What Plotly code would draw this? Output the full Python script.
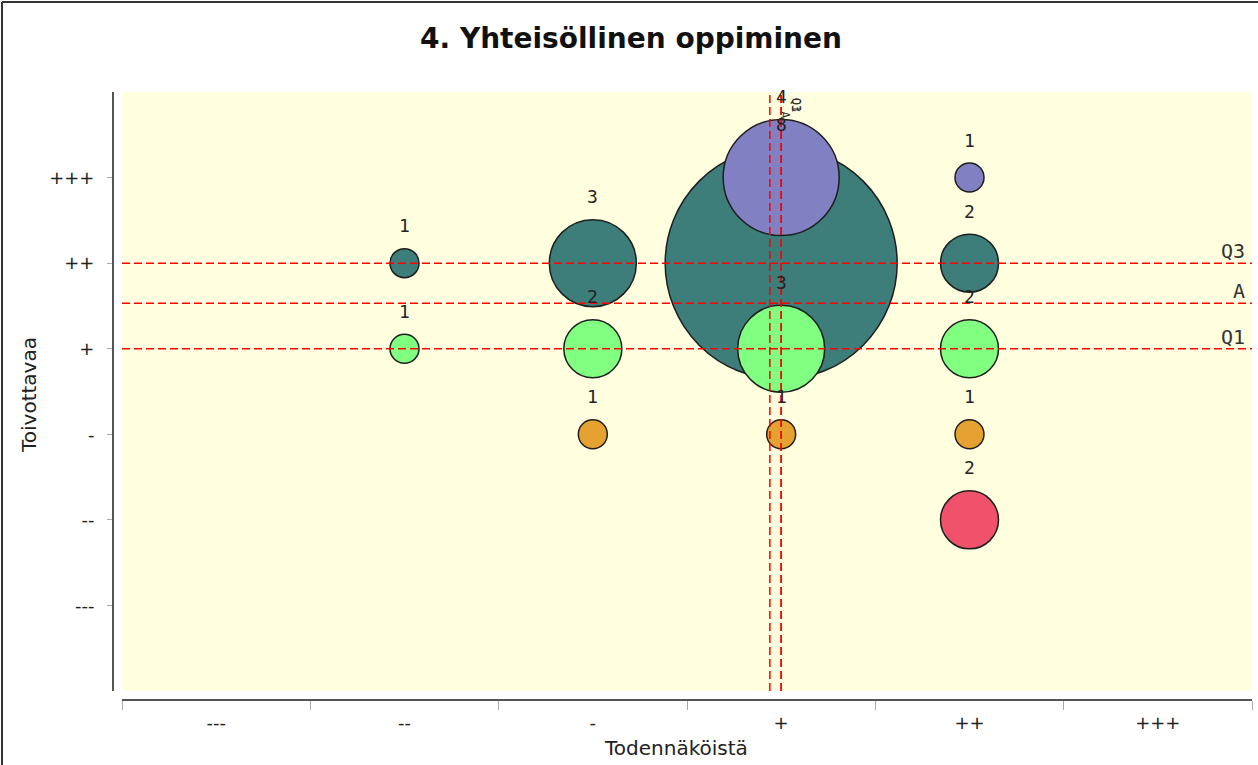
import plotly.graph_objects as go

W, H = 1258, 765

x_categories = ["---", "--", "-", "+", "++", "+++"]
y_categories = ["---", "--", "-", "+", "++", "+++"]
y_tickvals = [1, 2, 3, 4, 5, 6]

# bubble series: x category index (1..6), y category index (1..6), count
teal_x = [2, 3, 4, 5]
teal_y = [5, 5, 5, 5]
teal_n = [1, 3, 8, 2]

purple_x = [4, 5]
purple_y = [6, 6]
purple_n = [4, 1]

green_x = [2, 3, 4, 5]
green_y = [4, 4, 4, 4]
green_n = [1, 2, 3, 2]

orange_x = [3, 4, 5]
orange_y = [3, 3, 3]
orange_n = [1, 1, 1]

red_x = [5]
red_y = [2]
red_n = [2]

# statistic markers
h_marker_names = ["Q3", "A", "Q1"]
h_marker_vals = [5.0, 4.53, 4.0]
v_marker_names = ["Q1", "A", "Q3"]
v_marker_vals = [4.0, 3.94, 4.0]

title = "4. Yhteisöllinen oppiminen"
x_title = "Todennäköistä"
y_title = "Toivottavaa"

# ---- layout geometry (pixels) ----
PL, PR, PT, PB = 122, 1252, 92, 691
YAX_X = 113
XAX_Y = 700
PX_PER_COUNT = 29.0

def px(xp):
    return xp / W

def py(yp):
    return 1 - yp / H

series = [
    (teal_x, teal_y, teal_n, "rgb(61,125,122)"),
    (purple_x, purple_y, purple_n, "rgb(128,128,194)"),
    (green_x, green_y, green_n, "rgb(128,255,128)"),
    (orange_x, orange_y, orange_n, "rgb(230,162,48)"),
    (red_x, red_y, red_n, "rgb(240,82,108)"),
]

fig = go.Figure()
annotations = []
for xs, ys, ns, col in series:
    fig.add_trace(go.Scatter(
        x=xs, y=ys, mode="markers",
        marker=dict(size=ns, sizemode="diameter", sizeref=1 / PX_PER_COUNT,
                    color=col, opacity=1, line=dict(color="#1e1e1e", width=1.5)),
        hoverinfo="skip", showlegend=False, xaxis="x", yaxis="y",
    ))
    for xv, yv, nv in zip(xs, ys, ns):
        annotations.append(dict(
            x=xv, y=yv, xref="x", yref="y", text=str(nv), showarrow=False,
            yshift=nv * PX_PER_COUNT / 2 + 23, yanchor="middle",
            font=dict(family="DejaVu Sans Mono", size=18, color="#222"),
        ))

# dummy traces to activate the offset axes
fig.add_trace(go.Scatter(x=x_categories, y=[None] * 6, xaxis="x2", yaxis="y",
                         mode="markers", showlegend=False, hoverinfo="skip"))
fig.add_trace(go.Scatter(x=[None], y=[None], xaxis="x", yaxis="y2",
                         mode="markers", showlegend=False, hoverinfo="skip"))

shapes = []
dash_line = dict(color="rgb(255,0,0)", width=1.5, dash="8px,4px")
for name, v in zip(h_marker_names, h_marker_vals):
    shapes.append(dict(type="line", xref="paper", yref="y", x0=px(PL), x1=px(PR),
                       y0=v, y1=v, line=dash_line, layer="above"))
    annotations.append(dict(x=6.5, y=v, xref="x", yref="y", text=name, showarrow=False,
                            xanchor="right", yanchor="bottom", xshift=-5, yshift=-2,
                            font=dict(family="DejaVu Sans Mono", size=20, color="#333")))
for v in v_marker_vals:
    shapes.append(dict(type="line", xref="x", yref="paper", x0=v, x1=v,
                       y0=py(PB), y1=py(PT), line=dash_line, layer="above"))
for i, (name, v) in enumerate(zip(v_marker_names, v_marker_vals)):
    annotations.append(dict(x=v, y=7, xref="x", yref="y", text=name, showarrow=False,
                            xanchor="left", yanchor="top", xshift=6, yshift=-4 - 13 * (i % 2),
                            textangle=90,
                            font=dict(family="DejaVu Sans Mono", size=12, color="#333")))

# outer border (left and top)
border = dict(color="#333", width=2)
shapes.append(dict(type="line", xref="paper", yref="paper", x0=px(2), x1=px(2),
                   y0=0, y1=py(2), line=border, layer="above"))
shapes.append(dict(type="line", xref="paper", yref="paper", x0=px(2), x1=1,
                   y0=py(2), y1=py(2), line=border, layer="above"))

# axis titles as annotations
annotations.append(dict(x=px(676), y=py(748), xref="paper", yref="paper", text=x_title,
                        showarrow=False, xanchor="center", yanchor="middle",
                        font=dict(family="DejaVu Sans", size=20, color="#222")))
annotations.append(dict(x=px(29), y=py(395), xref="paper", yref="paper", text=y_title,
                        showarrow=False, xanchor="center", yanchor="middle", textangle=-90,
                        font=dict(family="DejaVu Sans", size=20, color="#222")))

fig.update_layout(
    width=W, height=H, margin=dict(l=0, r=0, t=0, b=0),
    paper_bgcolor="white", plot_bgcolor="rgb(255,255,224)",
    title=dict(text=title, x=px(631), xanchor="center", y=py(38), yanchor="middle",
               font=dict(family="DejaVu Sans", size=28, color="#111", weight="bold")),
    xaxis=dict(domain=[px(PL), px(PR)], range=[0.5, 6.5], showgrid=False, zeroline=False,
               showticklabels=False, ticks="", showline=False, fixedrange=True),
    yaxis=dict(domain=[py(PB), py(PT)], range=[0, 7], showgrid=False, zeroline=False,
               showticklabels=False, ticks="", showline=False, fixedrange=True),
    xaxis2=dict(overlaying="x", anchor="free", position=py(XAX_Y), type="category",
                categoryorder="array", categoryarray=x_categories, range=[-0.5, 5.5],
                tickson="boundaries", ticks="outside", ticklen=9, tickcolor="#aaa", tickwidth=1,
                showline=True, linecolor="#555", linewidth=2, showgrid=False,
                ticklabelstandoff=6,
                tickfont=dict(family="DejaVu Sans", size=18, color="#222"),
                fixedrange=True),
    yaxis2=dict(overlaying="y", anchor="free", position=px(YAX_X), side="left", range=[0, 7],
                tickvals=y_tickvals, ticktext=y_categories, ticks="outside", ticklen=5,
                tickcolor="#aaa", tickwidth=1, showline=True, linecolor="#555", linewidth=2,
                showgrid=False, zeroline=False, ticklabelstandoff=9,
                tickfont=dict(family="DejaVu Sans", size=18, color="#222"),
                fixedrange=True),
    shapes=shapes, annotations=annotations,
)

fig.write_html("out.html", config={"displayModeBar": False},
               post_script="document.body.style.margin='0px';")
